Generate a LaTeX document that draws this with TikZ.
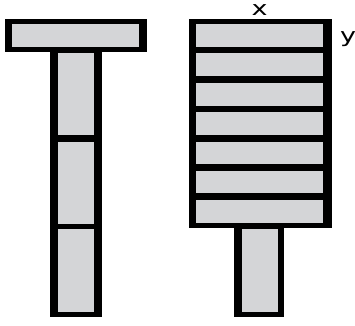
\documentclass[tikz,border=0pt]{standalone}
\usepackage{fontspec}
\setmainfont{DejaVu Sans}
\definecolor{cellgray}{RGB}{212,213,215}
\begin{document}
\begin{tikzpicture}[x=1pt,y=-1pt,
  outer/.style={fill=black},
  cell/.style={fill=cellgray},
  lbl/.style={inner sep=0pt,font=\fontsize{20}{20}\selectfont}]
\useasboundingbox (0,0) rectangle (355,325);
% Left T
\fill[outer] (5,19) rectangle (147,52);
\fill[outer] (50,52) rectangle (102,317);
\fill[cell] (12,24) rectangle (139,47);
\fill[cell] (58,52.5) rectangle (94,135);
\fill[cell] (58,142) rectangle (94,224);
\fill[cell] (58,229) rectangle (94,312);
% Right figure
\fill[outer] (189,19) rectangle (332,228);
\fill[outer] (234,228) rectangle (284,317);
\foreach \a/\b in {24/47,53/76,83/106,112/135,142/164,171/193,200/223}
  \fill[cell] (196,\a) rectangle (323,\b);
\fill[cell] (242,229) rectangle (278,312);
% labels
\node[lbl,anchor=base] (xl) at (259.5,15) {\scalebox{1.35}[1]{x}};
\node[lbl,anchor=base west] (yl) at (340,42) {\scalebox{1.35}[1]{y}};
\end{tikzpicture}
\end{document}
